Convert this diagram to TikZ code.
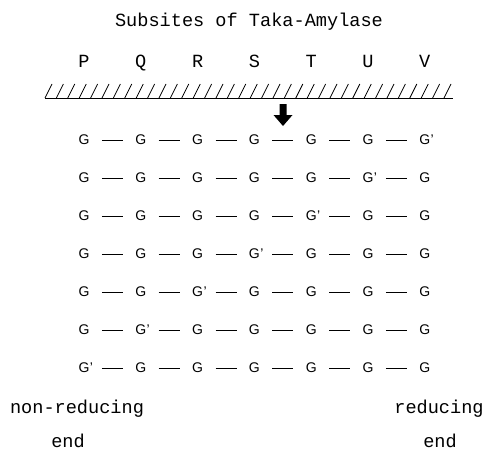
\documentclass[tikz,border=0pt]{standalone}
\usepackage{fontspec}
\setmainfont{Liberation Sans}
\newfontfamily\cour{Liberation Mono}
\usetikzlibrary{calc}
\begin{document}
\begin{tikzpicture}[x=1pt,y=-1pt,
  mono/.style={font=\cour\fontsize{18.6}{20}\selectfont, inner sep=0, anchor=base},
  glu/.style={font=\fontsize{14}{16}\selectfont, inner sep=0},
  bond/.style={line width=1pt},
  hatch/.style={line width=0.8pt}]
\useasboundingbox (0,0) rectangle (490,452);
% title and subsite letters
\node[mono] (title) at (249,27) {Subsites of Taka-Amylase};
\foreach \l [count=\i] in {P,Q,R,S,T,U,V}
  \node[mono] (site\i) at ({84+56.8*(\i-1)},68) {\l};
% enzyme surface
\draw[hatch] (45,98) coordinate (surfL) -- (453,98) coordinate (surfR);
\foreach \k in {0,...,35}
  \draw[hatch] ({45+11.4*\k},98) -- ++(7,-14);
% cleavage arrow
\fill (279.5,104) -- (286.5,104) -- (286.5,115) -- (292.5,115) -- (283,126)
  -- (273.5,115) -- (279.5,115) -- cycle;
% glucose chains
\foreach \r in {1,...,7}{
  \pgfmathsetmacro\yy{140+38*(\r-1)}
  \pgfmathtruncatemacro\pc{8-\r}
  \foreach \c in {1,...,7}{
    \ifnum\c=\pc
      \node[glu] (g\r-\c) at ({84+56.8*(\c-1)},\yy) {G\rlap{\kern0.5pt'}};
    \else
      \node[glu] (g\r-\c) at ({84+56.8*(\c-1)},\yy) {G};
    \fi
  }
  \foreach \c [evaluate=\c as \n using int(\c+1)] in {1,...,6}{
    \draw[bond] ($(g\r-\c)!0.5!(g\r-\n)$) +(-10.5,0) -- +(10.5,0);
  }
}
% ends
\node[mono] (nonred) at (77,413) {non-reducing};
\node[mono] (nonredend) at (68,447) {end};
\node[mono] (red) at (439,413) {reducing};
\node[mono] (redend) at (440,447) {end};
\end{tikzpicture}
\end{document}
